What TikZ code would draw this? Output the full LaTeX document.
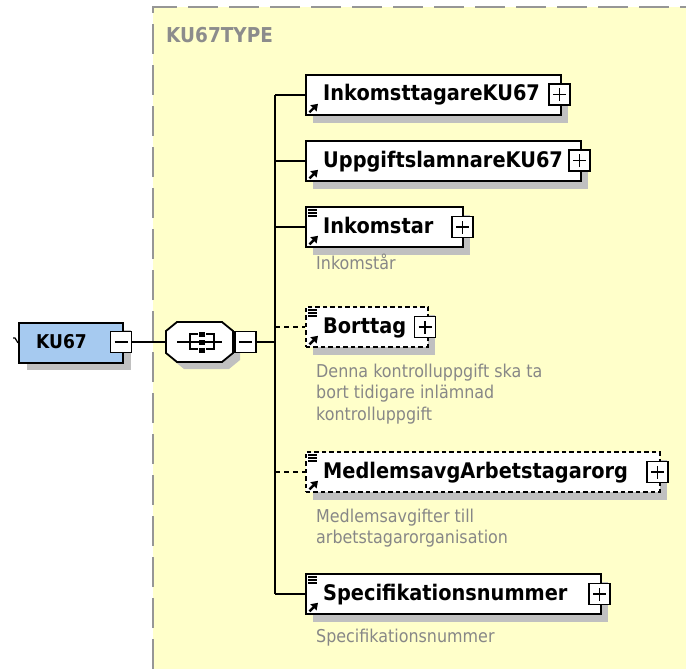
\documentclass[tikz,border=0pt]{standalone}
\usepackage{fontspec}
\setmainfont{DejaVu Sans}[FakeStretch=0.9]
\usetikzlibrary{shadows,arrows.meta}
\definecolor{bgyellow}{RGB}{255,255,202}
\definecolor{bordergray}{RGB}{150,150,150}
\definecolor{shadowgray}{RGB}{192,192,192}
\definecolor{kublue}{RGB}{166,202,240}
\definecolor{descgray}{RGB}{135,135,135}
\definecolor{typegray}{RGB}{140,140,140}
\newcommand\plusbox[2]{%
  \node[pbox] (#1) at #2 {};
  \draw[sign] ([xshift=-6.5pt]#1.center) -- ([xshift=6.5pt]#1.center)
              ([yshift=-6.5pt]#1.center) -- ([yshift=6.5pt]#1.center);}
\newcommand\minusbox[2]{%
  \node[pbox] (#1) at #2 {};
  \draw[sign] ([xshift=-6.5pt]#1.center) -- ([xshift=6.5pt]#1.center);}
\newcommand\refarrow[1]{%
  \draw[line width=2.4pt, -{Triangle[length=6.5pt,width=8.5pt]}]
    ([shift={(4.5pt,3.5pt)}]#1.south west) -- ([shift={(13pt,12pt)}]#1.south west);}
\newcommand\docicon[1]{%
  \draw[line width=1.1pt]
    ([shift={(3pt,-4pt)}]#1.north west) -- ([shift={(12pt,-4pt)}]#1.north west)
    ([shift={(3pt,-7pt)}]#1.north west) -- ([shift={(12pt,-7pt)}]#1.north west)
    ([shift={(3pt,-10pt)}]#1.north west) -- ([shift={(12pt,-10pt)}]#1.north west);}
\begin{document}
\begin{tikzpicture}[x={(1pt,0)}, y={(0,-1pt)},
  elem/.style={draw=black, line width=1.8pt, fill=white, minimum height=40pt,
    anchor=north west, inner sep=0pt,
    drop shadow={shadow xshift=7pt, shadow yshift=-8pt, fill=shadowgray, opacity=1}},
  optelem/.style={elem, dash pattern=on 4.5pt off 3pt},
  pbox/.style={draw=black, line width=1.6pt, fill=white, minimum size=21pt, inner sep=0pt},
  sign/.style={line width=1.8pt},
  title/.style={anchor=base west, inner sep=0pt, font=\fontsize{21.5}{24}\selectfont\bfseries},
  desc/.style={anchor=north west, inner sep=0pt, text=descgray, align=left,
    font=\fontsize{17.7}{21.5}\selectfont},
  descone/.style={anchor=base west, inner sep=0pt, text=descgray,
    font=\fontsize{17.7}{21.5}\selectfont},
  conn/.style={line width=1.7pt},
  optconn/.style={line width=1.7pt, dash pattern=on 5pt off 4pt}]
\useasboundingbox (0,0) rectangle (686,669);
% type area
\fill[bgyellow] (153,7) rectangle (686,669);
\draw[bordergray, line width=2.2pt, dash pattern=on 30pt off 11pt] (153,669) -- (153,7) -- (686,7);
\node[anchor=base west, inner sep=0pt, text=typegray, font=\fontsize{20.5}{24}\selectfont\bfseries] (typename) at (166,43) {KU67TYPE};
% root element
\node[draw=black, line width=1.8pt, fill=kublue, minimum width=104pt, minimum height=40pt,
  anchor=north west, inner sep=0pt,
  drop shadow={shadow xshift=8pt, shadow yshift=-7pt, fill=shadowgray, opacity=1}] (ku) at (18,322) {};
\node[anchor=base west, inner sep=0pt, font=\fontsize{19}{22}\selectfont\bfseries] (kutxt) at (36,348) {KU67};
\minusbox{kum}{(121,342)}
\coordinate (kutick) at (13,338);
\draw[line width=1.2pt] (kutick) -- ++(2,0) -- (ku.west);
% sequence compositor
\node[inner sep=0pt, minimum width=67pt, minimum height=40pt] (seq) at (199.5,342) {};
\fill[shadowgray] (184,329)--(229,329)--(240,338)--(240,360)--(229,369)--(184,369)--(173,360)--(173,338)--cycle;
\draw[line width=1.8pt, fill=white] (177,322)--(222,322)--(233,331)--(233,353)--(222,362)--(177,362)--(166,353)--(166,331)--cycle;
\draw[line width=1.5pt] (177,342) -- (222,342);
\draw[line width=1.5pt] (198,334) -- (190,334) -- (190,349) -- (198,349);
\draw[line width=1.5pt] (206,334) -- (214,334) -- (214,349) -- (206,349);
\fill[black] (198.5,331.5) rectangle (204.5,336.5);
\fill[black] (198.5,339.5) rectangle (204.5,344.5);
\fill[black] (198.5,347.5) rectangle (204.5,352.5);
\minusbox{seqm}{(245.5,342)}
\coordinate (tr) at (275,342);
\draw[conn] (kum.east) -- (seq.west);
\draw[conn] (seqm.east) -- (tr);
% children
\node[elem, minimum width=255pt] (n1) at (305,74) {};
\node[elem, minimum width=275pt] (n2) at (305,140) {};
\node[elem, minimum width=157pt] (n3) at (305,206) {};
\node[optelem, minimum width=122pt] (n4) at (305,306) {};
\node[optelem, minimum width=354pt] (n5) at (305,451) {};
\node[elem, minimum width=295pt] (n6) at (305,573) {};
\draw[conn] (n1.west -| tr) -- (n6.west -| tr);
\draw[conn] (n1.west -| tr) -- (n1.west);
\draw[conn] (n2.west -| tr) -- (n2.west);
\draw[conn] (n3.west -| tr) -- (n3.west);
\draw[optconn] (n4.west -| tr) -- (n4.west);
\draw[optconn] (n5.west -| tr) -- (n5.west);
\draw[conn] (n6.west -| tr) -- (n6.west);
\plusbox{p1}{(559.5,94.5)}
\plusbox{p2}{(579.5,160.5)}
\plusbox{p3}{(462.5,227)}
\plusbox{p4}{(425,327)}
\plusbox{p5}{(657.5,472)}
\plusbox{p6}{(599.5,594)}
\foreach \n in {n1,n2,n3,n4,n5,n6} {\refarrow{\n}}
\foreach \n in {n3,n4,n5,n6} {\docicon{\n}}
\node[title] (t1) at (323,101) {InkomsttagareKU67};
\node[title] (t2) at (323,167) {UppgiftslamnareKU67};
\node[title] (t3) at (323,233) {Inkomstar};
\node[title] (t4) at (323,333) {Borttag};
\node[title] (t5) at (323,478) {MedlemsavgArbetstagarorg};
\node[title] (t6) at (323,600) {Specifikationsnummer};
\node[descone] (d3) at (316,269) {Inkomstår};
\node[desc] (d4) at (316,363.6) {Denna kontrolluppgift ska ta\\bort tidigare inlämnad\\kontrolluppgift};
\node[desc] (d5) at (316,508.6) {Medlemsavgifter till\\arbetstagarorganisation};
\node[descone] (d6) at (316,642) {Specifikationsnummer};
\end{tikzpicture}
\end{document}
